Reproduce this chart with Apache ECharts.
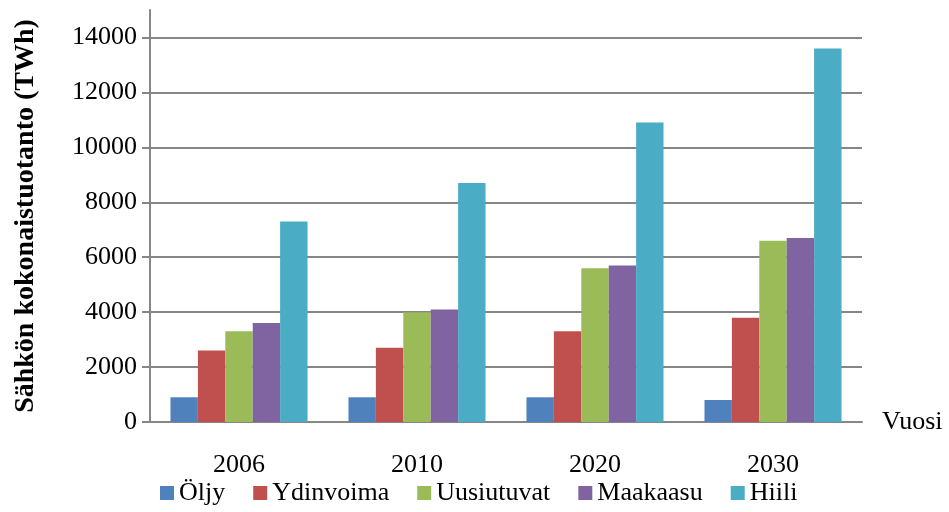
<!DOCTYPE html>
<html>
<head>
<meta charset="utf-8">
<script src="https://cdn.jsdelivr.net/npm/echarts@6/dist/echarts.min.js"></script>
<style>
  html, body { margin: 0; padding: 0; background: #fff; }
  #chart { width: 949px; height: 512px; }
</style>
</head>
<body>
<div id="chart"></div>
<script>
// vuodet ja sarjat
const years = ['2006', '2010', '2020', '2030']
const seriesNames = ['Öljy', 'Ydinvoima', 'Uusiutuvat', 'Maakaasu', 'Hiili']
const oljy = [900, 900, 900, 800]
const ydinvoima = [2600, 2700, 3300, 3800]
const uusiutuvat = [3300, 4000, 5600, 6600]
const maakaasu = [3600, 4100, 5700, 6700]
const hiili = [7300, 8700, 10900, 13600]
const colors = ['#4F81BD', '#C0504D', '#9BBB59', '#8064A2', '#4BACC6']

const values = [oljy, ydinvoima, uusiutuvat, maakaasu, hiili]
const font = 'Liberation Serif'
const axisGray = '#868686'

const chart = echarts.init(document.getElementById('chart'))

const legendText = { fontFamily: font, fontSize: 26, color: '#000' }

const option = {
  animation: false,
  textStyle: { fontFamily: font },
  grid: { left: 150, right: 87, top: 10, bottom: 90, containLabel: false, outerBoundsMode: 'none' },
  legend: {
    left: 155,
    bottom: 1,
    icon: 'rect',
    itemWidth: 14,
    itemHeight: 14,
    itemGap: 28,
    textStyle: legendText,
    data: seriesNames.map((n) => ({ name: n, textStyle: legendText })),
  },
  xAxis: {
    type: 'category',
    data: years,
    name: 'Vuosi',
    nameLocation: 'end',
    nameGap: 20,
    nameTextStyle: { fontFamily: font, fontSize: 26, color: '#000', verticalAlign: 'middle', padding: [26, 0, 0, 0] },
    axisLine: { lineStyle: { color: axisGray, width: 2 } },
    axisTick: { length: 8, lineStyle: { color: axisGray, width: 2 } },
    axisLabel: { fontFamily: font, fontSize: 26, color: '#000', margin: 30 },
  },
  yAxis: {
    type: 'value',
    min: 0,
    max: 15000,
    interval: 2000,
    name: 'Sähkön kokonaistuotanto (TWh)',
    nameLocation: 'middle',
    nameGap: 110,
    nameTextStyle: { fontFamily: font, fontSize: 28, fontWeight: 'bold', color: '#000' },
    axisLine: { show: true, lineStyle: { color: axisGray, width: 2 } },
    axisTick: { show: true, length: 8, lineStyle: { color: axisGray, width: 2 } },
    axisLabel: { fontFamily: font, fontSize: 26, color: '#000', margin: 13, showMaxLabel: false, formatter: (v) => String(v) },
    splitLine: { show: true, showMaxLine: false, lineStyle: { color: axisGray, width: 2 } },
  },
  series: seriesNames.map((name, i) => ({
    name: name,
    type: 'bar',
    data: values[i],
    barGap: '0%',
    barCategoryGap: '23%',
    itemStyle: { color: colors[i] },
  })),
}

chart.setOption(option)
</script>
</body>
</html>
